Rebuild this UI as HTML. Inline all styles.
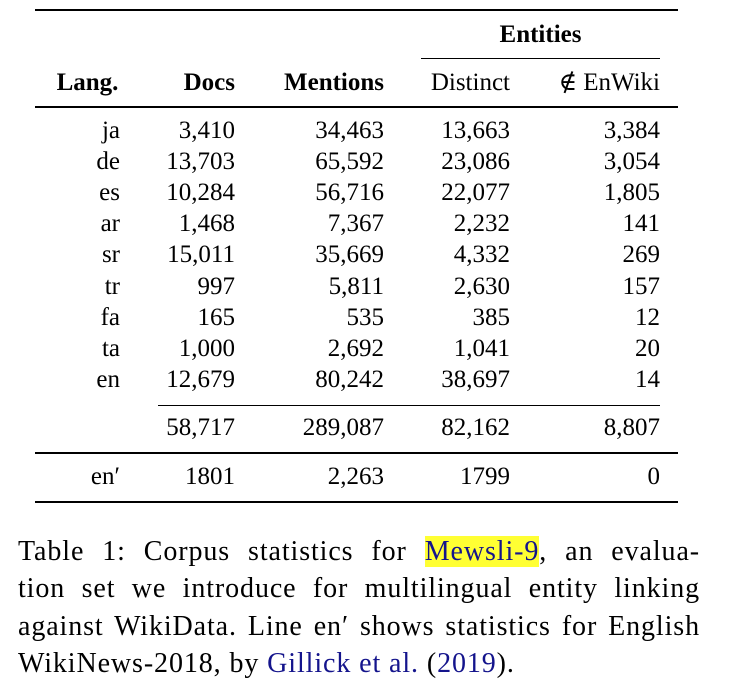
<!DOCTYPE html>
<html><head><meta charset="utf-8"><style>
body{margin:0;width:749px;height:699px;background:#fff;position:relative;font-family:"Liberation Serif","Times New Roman",Tinos,"Nimbus Roman","DejaVu Serif",serif;color:#000;overflow:hidden}
.t{position:absolute;font-size:25px;line-height:30px;white-space:nowrap}
.r{text-align:right}
.b{font-weight:bold}
.rule{position:absolute;background:#000}
.cap{position:absolute;left:18px;width:682px;font-size:28px;letter-spacing:0.9px;line-height:37px;text-align:justify;text-align-last:justify;white-space:nowrap}
.hl{background:#ffff33;color:#14148c}
.bl{color:#14148c}
</style></head><body>
<div class="rule" style="left:35px;top:9px;width:643px;height:2px"></div>
<div class="t b" style="left:421px;width:239px;text-align:center;top:20px">Entities</div>
<div class="rule" style="left:421px;top:58px;width:239px;height:1px"></div>
<div class="t b" style="left:40px;width:95px;text-align:center;top:68px">Lang.</div>
<div class="t b r" style="left:135px;width:100px;top:68px">Docs</div>
<div class="t b r" style="left:250px;width:134px;top:68px">Mentions</div>
<div class="t r" style="left:400px;width:110px;top:68px">Distinct</div>
<div class="t r" style="left:520px;width:140px;top:68px">∉ EnWiki</div>
<div class="rule" style="left:35px;top:106px;width:643px;height:2px"></div>
<div id="rows"></div>
<div class="rule" style="left:158px;top:405px;width:502px;height:1px"></div>
<div class="t r" style="left:135px;width:100px;top:413px">58,717</div>
<div class="t r" style="left:250px;width:134px;top:413px">289,087</div>
<div class="t r" style="left:400px;width:110px;top:413px">82,162</div>
<div class="t r" style="left:520px;width:140px;top:413px">8,807</div>
<div class="rule" style="left:35px;top:452px;width:643px;height:2px"></div>
<div class="t r" style="left:40px;width:80px;top:462px">en′</div>
<div class="t r" style="left:135px;width:100px;top:462px">1801</div>
<div class="t r" style="left:250px;width:134px;top:462px">2,263</div>
<div class="t r" style="left:400px;width:110px;top:462px">1799</div>
<div class="t r" style="left:520px;width:140px;top:462px">0</div>
<div class="rule" style="left:35px;top:501px;width:643px;height:2px"></div>
<div class="cap" style="top:533px">Table 1: Corpus statistics for <span class="hl">Mewsli-9</span>, an evalua-</div>
<div class="cap" style="top:570px">tion set we introduce for multilingual entity linking</div>
<div class="cap" style="top:608px">against WikiData. Line en′ shows statistics for English</div>
<div class="cap" style="top:645px;text-align:left;text-align-last:left">WikiNews-2018, by <span class="bl">Gillick et al.</span> (<span class="bl">2019</span>).</div>
<script>
var d=[["ja","3,410","34,463","13,663","3,384"],["de","13,703","65,592","23,086","3,054"],["es","10,284","56,716","22,077","1,805"],["ar","1,468","7,367","2,232","141"],["sr","15,011","35,669","4,332","269"],["tr","997","5,811","2,630","157"],["fa","165","535","385","12"],["ta","1,000","2,692","1,041","20"],["en","12,679","80,242","38,697","14"]];
var cols=[[40,80],[135,100],[250,134],[400,110],[520,140]],h="";
d.forEach(function(r,i){var y=116+i*31.1;r.forEach(function(v,j){h+='<div class="t r" style="left:'+cols[j][0]+'px;width:'+cols[j][1]+'px;top:'+y+'px">'+v+'</div>';});});
document.getElementById("rows").outerHTML=h;
</script>
</body></html>
